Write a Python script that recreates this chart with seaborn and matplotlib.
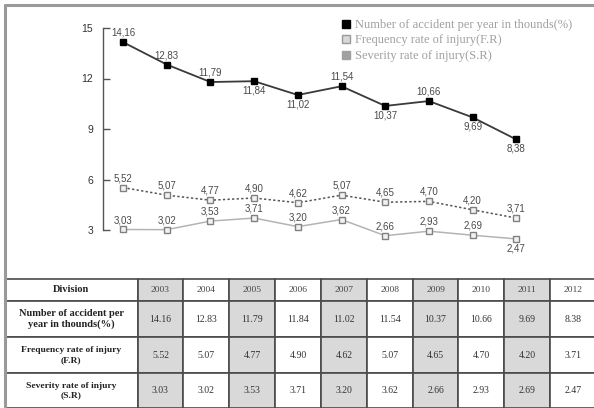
import numpy as np
import pandas as pd
import seaborn as sns
import matplotlib
matplotlib.use("Agg")
import matplotlib.pyplot as plt
from matplotlib.lines import Line2D
from matplotlib.font_manager import FontProperties

# ---- data -------------------------------------------------------------
years = ["2003", "2004", "2005", "2006", "2007", "2008", "2009", "2010", "2011", "2012"]
accidents = [14.16, 12.83, 11.79, 11.84, 11.02, 11.54, 10.37, 10.66, 9.69, 8.38]
frequency = [5.52, 5.07, 4.77, 4.90, 4.62, 5.07, 4.65, 4.70, 4.20, 3.71]
severity = [3.03, 3.02, 3.53, 3.71, 3.20, 3.62, 2.66, 2.93, 2.69, 2.47]

series_names = [
    "Number of accident per year in thounds(%)",
    "Frequency rate of injury(F.R)",
    "Severity rate of injury(S.R)",
]
row_labels = [
    "Number of accident per\nyear in thounds(%)",
    "Frequency rate of injury\n(F.R)",
    "Severity rate of injury\n(S.R)",
]
header_label = "Division"
yticks = [3, 6, 9, 12, 15]

# value-label placement (+1 above the marker, -1 below)
acc_side = [1, 1, 1, -1, -1, 1, -1, 1, -1, -1]
freq_side = [1] * 10
sev_side = [1] * 9 + [-1]

# ---- figure -----------------------------------------------------------
sns.set_style("white")
plt.rcParams["font.family"] = ["Liberation Sans", "DejaVu Sans"]

W, H = 594, 408
fig = plt.figure(figsize=(W / 100, H / 100), dpi=100)

x = np.arange(len(years))
df = pd.DataFrame({"pos": x, "acc": accidents, "freq": frequency, "sev": severity})

ax = fig.add_axes([103 / W, (H - 230) / H, (560 - 103) / W, 202 / H])
ax.set_facecolor("none")

marker_kw = dict(marker="s", markersize=5, markeredgewidth=1.0, clip_on=False)
sns.lineplot(data=df, x="pos", y="sev", ax=ax, color="#b4b4b4", lw=1.1,
             markerfacecolor="#f2f2f2", markeredgecolor="#808080", **marker_kw)
sns.lineplot(data=df, x="pos", y="freq", ax=ax, color="#555555", lw=1.1,
             linestyle=(0, (1.5, 1.5)), markerfacecolor="#f2f2f2",
             markeredgecolor="#808080", **marker_kw)
sns.lineplot(data=df, x="pos", y="acc", ax=ax, color="#3a3a3a", lw=1.3,
             markerfacecolor="black", markeredgecolor="black", **marker_kw)

def label_points(vals, sides):
    for xi, v, s in zip(x, vals, sides):
        ax.annotate(f"{v:.2f}".replace(".", ","), (xi, v),
                    xytext=(0, 6.8 * s), textcoords="offset points",
                    ha="center", va="center", fontsize=7, color="#4a4a4a",
                    annotation_clip=False)

label_points(accidents, acc_side)
label_points(frequency, freq_side)
label_points(severity, sev_side)

ax.set_xlim(-0.458, 10.0)
ax.set_ylim(3, 15)
ax.set_xlabel("")
ax.set_ylabel("")
ax.set_xticks([])
ax.set_yticks(yticks)
ax.set_yticklabels([str(t) for t in yticks])
for side in ["top", "right", "bottom"]:
    ax.spines[side].set_visible(False)
ax.spines["left"].set_color("#555555")
ax.spines["left"].set_linewidth(1.0)
ax.spines["left"].set_bounds(3, 15)
ax.tick_params(axis="y", left=True, direction="in", length=5, width=1.0,
               color="#555555", labelsize=7.5, labelcolor="#333333", pad=7)

# legend
handles = [
    Line2D([], [], ls="none", marker="s", markersize=6, markerfacecolor="black",
           markeredgecolor="black"),
    Line2D([], [], ls="none", marker="s", markersize=6, markerfacecolor="#d8d8d8",
           markeredgecolor="#9a9a9a"),
    Line2D([], [], ls="none", marker="s", markersize=6, markerfacecolor="#a0a0a0",
           markeredgecolor="#a0a0a0"),
]
fig.legend(handles, series_names, loc="upper left",
           bbox_to_anchor=(340 / W, 1 - 19 / H), frameon=False,
           prop=FontProperties(family="Liberation Serif", size=9),
           labelcolor="#a0a0a0", handlelength=0.9, handletextpad=0.3,
           labelspacing=0.28, borderpad=0, borderaxespad=0)

# outer frame
frame_kw = dict(transform=fig.transFigure, color="#9a9a9a", lw=2.2)
fig.add_artist(Line2D([5 / W, 1], [1 - 5 / H, 1 - 5 / H], **frame_kw))
fig.add_artist(Line2D([5 / W, 5 / W], [0, 1 - 5 / H], **frame_kw))

# ---- data table -------------------------------------------------------
tab_left, tab_right, tab_top = 5, 596, 279
tax = fig.add_axes([tab_left / W, 0, (tab_right - tab_left) / W, (H - tab_top) / H])
tax.axis("off")

cells = [[header_label] + years]
for lab, vals in zip(row_labels, [accidents, frequency, severity]):
    cells.append([lab] + [f"{v:.2f}" for v in vals])

tbl = tax.table(cellText=cells, cellLoc="center", bbox=[0, 0, 1, 1])
tbl.auto_set_font_size(False)

col_w = [133] + [46] * len(years)
row_h = [22, 36, 36, 35]
tw, th = sum(col_w), sum(row_h)
for (r, c), cell in tbl.get_celld().items():
    cell.set_width(col_w[c] / tw)
    cell.set_height(row_h[r] / th)
    cell.set_edgecolor("#4a4a4a")
    cell.set_linewidth(1.2)
    shaded = c >= 1 and (c - 1) % 2 == 0
    cell.set_facecolor("#d9d9d9" if shaded else "white")
    txt = cell.get_text()
    if c == 0:
        size = 7.5 if r <= 1 else 6.8
        txt.set_fontproperties(FontProperties(family="Liberation Serif",
                                              weight="bold", size=size))
        txt.set_color("#222222")
        txt.set_linespacing(1.3)
    elif r == 0:
        txt.set_fontproperties(FontProperties(family="Liberation Serif", size=6.8))
        txt.set_color("#444444")
    else:
        txt.set_fontproperties(FontProperties(family="Liberation Serif", size=7))
        txt.set_color("#333333")

fig.savefig("out.png", dpi=100)
